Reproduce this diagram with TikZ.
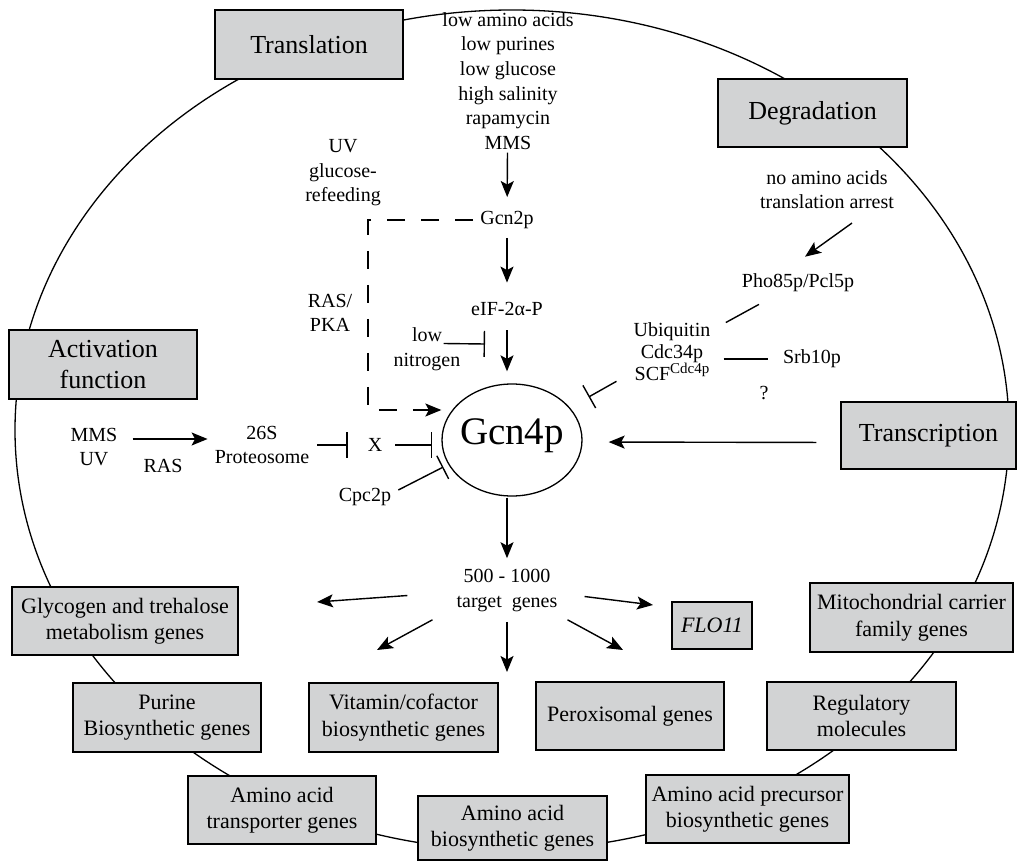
\documentclass[tikz,border=0pt]{standalone}
\usepackage{fontspec}
\setmainfont{Liberation Serif}
\usepackage{tikz}
\usetikzlibrary{arrows.meta, shapes.geometric}
\definecolor{boxgray}{RGB}{210,211,212}
\tikzset{
    gbox/.style={draw,line width=1.2pt,fill=boxgray,inner sep=0pt,align=center,
        font=\fontsize{22}{26.5}\selectfont},
    tbox/.style={gbox,font=\fontsize{26}{31}\selectfont},
    lbl/.style={inner sep=3pt,align=center,font=\fontsize{20}{24.6}\selectfont},
    arr/.style={draw,line width=1.4pt,-{Stealth[length=16pt,width=13pt,inset=3.5pt]}},
    inh/.style={draw,line width=1.4pt,-{Bar[width=26pt]}},
    ln/.style={draw,line width=1.4pt},
    dsh/.style={arr,dash pattern=on 18pt off 16pt},
}

\begin{document}
\begin{tikzpicture}[x=1pt,y=-1pt]
    \useasboundingbox (0,0) rectangle (1017,861);
    % cell
    \draw[line width=1.3pt] (512,430) ellipse [x radius=497, y radius=420];

    % boxes on the cell
    \node[tbox,minimum width=188pt,minimum height=69pt] (transl) at (309,44.5) {Translation};
    \node[tbox,minimum width=189pt,minimum height=68pt] (degr) at (812.5,113) {Degradation};
    \node[tbox,minimum width=188pt,minimum height=69pt] (actf) at (103,364.5) {Activation\\function};
    \node[tbox,minimum width=175pt,minimum height=67pt] (transc) at (928.5,435.5) {Transcription};
    \node[gbox,minimum width=226pt,minimum height=68pt] (glyc) at (125,621) {Glycogen and trehalose\\metabolism genes};
    \node[gbox,minimum width=203pt,minimum height=69pt] (mito) at (911.5,617.5) {Mitochondrial carrier\\family genes};
    \node[gbox,minimum width=188pt,minimum height=69pt] (purine) at (167,717.5) {Purine\\Biosynthetic genes};
    \node[gbox,minimum width=189pt,minimum height=69pt] (vitamin) at (403.5,717.5) {Vitamin/cofactor\\biosynthetic genes};
    \node[gbox,minimum width=80pt,minimum height=47pt] (flo11) at (712,625.5) {\textit{FLO11}};
    \node[gbox,minimum width=188pt,minimum height=68pt] (perox) at (630,716) {Peroxisomal genes};
    \node[gbox,minimum width=189pt,minimum height=68pt] (regul) at (861.5,716) {Regulatory\\molecules};
    \node[gbox,minimum width=188pt,minimum height=68pt] (aatrans) at (282,810) {Amino acid\\transporter genes};
    \node[gbox,minimum width=189pt,minimum height=64pt] (aabio) at (512.5,828) {Amino acid\\biosynthetic genes};
    \node[gbox,minimum width=203pt,minimum height=68pt] (aaprec) at (747.5,809) {Amino acid precursor\\biosynthetic genes};

    % labels
    \node[lbl] (stress) at (508,81) {low amino acids\\low purines\\low glucose\\high salinity\\rapamycin\\MMS};
    \node[lbl] (gcn2) at (507,220) {Gcn2p};
    \node[lbl] (eif) at (507,308.5) {eIF-2α-P};
    \node[lbl] (uvglc) at (343,173) {UV\\glucose-\\refeeding};
    \node[lbl] (raspka) at (330,313) {RAS/\\PKA};
    \node[lbl] (lown) at (427,349.5) {low\\nitrogen};
    \node[ellipse,draw,line width=1.3pt,minimum width=140pt,minimum height=112pt,
        inner xsep=-8pt,inner ysep=0pt,text depth=17pt,
        font=\fontsize{39}{39}\selectfont] (gcn4) at (512,440) {Gcn4p};
    \node[lbl] (noaa) at (827,189.5) {no amino acids\\translation arrest};
    \node[lbl] (pho85) at (798,283) {Pho85p/Pcl5p};
    \node[lbl,font=\fontsize{20}{21.5}\selectfont] (ubq) at (672,352)
        {Ubiquitin\\Cdc34p\\SCF\raisebox{7pt}{\fontsize{15}{15}\selectfont Cdc4p}};
    \node[lbl] (srb10) at (812,359) {Srb10p};
    \node[lbl] (mmsuv) at (94,447) {MMS\\UV};
    \node[lbl] (ras) at (163,466) {RAS};
    \node[lbl] (prot) at (262,445) {26S\\Proteosome};
    \node[lbl] (xnode) at (375,445) {X};
    \node[lbl] (cpc2) at (365,497) {Cpc2p};
    \node[lbl] (qmark) at (764,393) {?};
    \node[lbl] (targets) at (507,590.5) {500 - 1000\\target\ \ genes};

    \coordinate (dcrn) at (368,410);
    \coordinate (nbar) at (485,344);
    \coordinate (tgw) at (317,602);
    \coordinate (tgsw) at (377,650);
    \coordinate (tgs) at (507,672);
    \coordinate (tgse) at (623,650);
    \coordinate (tge) at (653,605);

    \path
        (stress) edge[arr,shorten >=11pt] (gcn2)
        (gcn2) edge[arr,shorten <=6pt,shorten >=16pt] (eif)
        (eif) edge[arr,shorten <=12pt,shorten >=12pt] (eif |- gcn4.north)
        (targets |- gcn4.south) edge[arr,shorten <=1pt,shorten >=8pt] (targets)
        ([shift={(-20,-6)}]lown.east) edge[inh] (nbar)
        ([yshift=8pt]mmsuv.east) edge[arr,shorten <=12pt,shorten >=4pt] ([yshift=6pt]prot.west)
        (prot) edge[inh,shorten <=5pt,shorten >=17pt] (xnode)
        (xnode) edge[inh,shorten <=10pt,shorten >=9pt] (xnode -| gcn4.west)
        ([shift={(4,-7)}]cpc2.east) edge[inh] ([shift={(2,27)}]gcn4.west)
        ([shift={(25,11)}]noaa.south) edge[arr] ([shift={(7,-14)}]pho85.north)
        (pho85) edge[ln,shorten <=19pt,shorten >=14pt] (ubq)
        (ubq.east |- srb10) edge[ln,shorten <=10pt,shorten >=12pt] (srb10)
        ([shift={(-14,-3)}]ubq.south west) edge[inh] ([shift={(6,-43)}]gcn4.east)
        ([yshift=-7pt]transc.west) edge[arr,shorten <=24pt,shorten >=26pt] ([yshift=-2pt]gcn4.east)
        ([shift={(-46,5)}]targets.west) edge[arr] (tgw)
        ([shift={(-21,5)}]targets.south west) edge[arr] (tgsw)
        ([yshift=-7pt]targets.south) edge[arr] (tgs)
        ([shift={(7,5)}]targets.south east) edge[arr] (tgse)
        ([shift={(24,6)}]targets.east) edge[arr] (tge)
    ;
    \draw[dsh,shorten <=4pt] (gcn2.west) -- (gcn2.west -| dcrn) -- (dcrn) -- (dcrn -| gcn4.west);
\end{tikzpicture}
\end{document}
